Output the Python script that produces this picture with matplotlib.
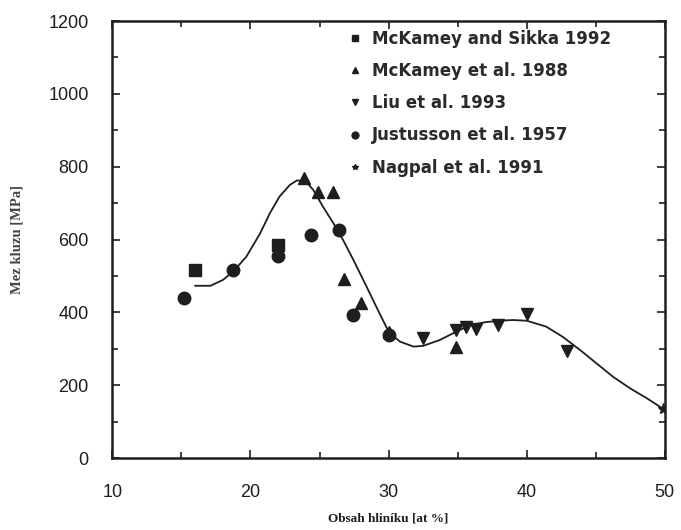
import matplotlib
matplotlib.use('Agg')
import matplotlib.pyplot as plt
from matplotlib.ticker import MultipleLocator

# data
sikka_x = [16.0, 22.0]
sikka_y = [516, 585]

mck88_x = [23.9, 24.9, 26.0, 26.8, 28.0, 30.0, 34.9]
mck88_y = [770, 730, 731, 491, 425, 345, 306]

liu_x = [32.5, 34.9, 35.6, 36.3, 37.9, 40.0, 42.9]
liu_y = [329, 352, 359, 354, 365, 396, 295]

just_x = [15.2, 18.7, 22.0, 24.4, 26.4, 27.4, 30.0]
just_y = [440, 516, 555, 613, 626, 393, 338]

nagpal_x = [49.9]
nagpal_y = [135]

# fitted curve
fit_x = [16.0, 17.1, 18.0, 18.75, 19.7, 20.7, 21.4, 22.1, 22.85, 23.35, 23.95,
         24.55, 25.25, 26.0, 26.7, 27.45, 28.4, 29.1, 30.0, 30.8, 31.8, 32.5,
         33.7, 34.9, 35.9, 37.0, 38.0, 39.0, 40.0, 41.4, 42.6, 43.85, 45.05,
         46.25, 47.5, 48.7, 50.0]
fit_y = [473, 473, 489, 512, 553, 617, 672, 718, 750, 762, 762,
         736, 690, 645, 599, 544, 471, 416, 347, 320, 306, 308,
         324, 347, 365, 373, 377, 379, 377, 361, 333, 297, 260,
         223, 191, 164, 132]

ink = '#1e1e1e'

fig = plt.figure(figsize=(6.81, 5.30), dpi=100)
ax = fig.add_axes([0.165, 0.1358, 0.8113, 0.8245])

ax.plot(fit_x, fit_y, '-', color=ink, lw=1.3, zorder=2)
ax.plot(sikka_x, sikka_y, 's', color=ink, ms=8.5, ls='none', label='McKamey and Sikka 1992', zorder=3)
ax.plot(mck88_x, mck88_y, '^', color=ink, ms=8.5, ls='none', label='McKamey et al. 1988', zorder=3)
ax.plot(liu_x, liu_y, 'v', color=ink, ms=8.5, ls='none', label='Liu et al. 1993', zorder=3)
ax.plot(just_x, just_y, 'o', color=ink, ms=9, ls='none', label='Justusson et al. 1957', zorder=3)
ax.plot(nagpal_x, nagpal_y, '*', color=ink, ms=8, ls='none', label='Nagpal et al. 1991', zorder=3)

ax.set_xlim(10, 50)
ax.set_ylim(0, 1200)
ax.xaxis.set_major_locator(MultipleLocator(10))
ax.xaxis.set_minor_locator(MultipleLocator(5))
ax.yaxis.set_major_locator(MultipleLocator(200))
ax.yaxis.set_minor_locator(MultipleLocator(100))

ax.tick_params(which='both', direction='in', top=True, right=True, color=ink, width=1.2)
ax.tick_params(which='major', length=6)
ax.tick_params(which='minor', length=4)
ax.tick_params(axis='x', which='major', pad=19)
ax.tick_params(axis='y', which='major', pad=17)
for lab in ax.get_xticklabels() + ax.get_yticklabels():
    lab.set_fontfamily('Liberation Sans')
    lab.set_fontsize(13)
    lab.set_color(ink)
for s in ax.spines.values():
    s.set_linewidth(1.8)
    s.set_color(ink)

ax.set_xlabel('Obsah hliníku [at %]', family='Liberation Serif', fontweight='bold',
              fontsize=9.5, color=ink, labelpad=8)
ax.set_ylabel('Mez kluzu [MPa]', family='Liberation Serif', fontweight='bold',
              fontsize=10.5, color='#444444', labelpad=18)

leg = ax.legend(loc='upper left', bbox_to_anchor=(0.415, 0.995), frameon=False,
                markerscale=0.55, handlelength=0.8, handletextpad=0.6,
                labelspacing=0.85, borderaxespad=0.0,
                prop={'family': 'DejaVu Sans', 'weight': 'bold', 'size': 12})
for t in leg.get_texts():
    t.set_color('#2a2a2a')

fig.savefig('out.png', dpi=100)
